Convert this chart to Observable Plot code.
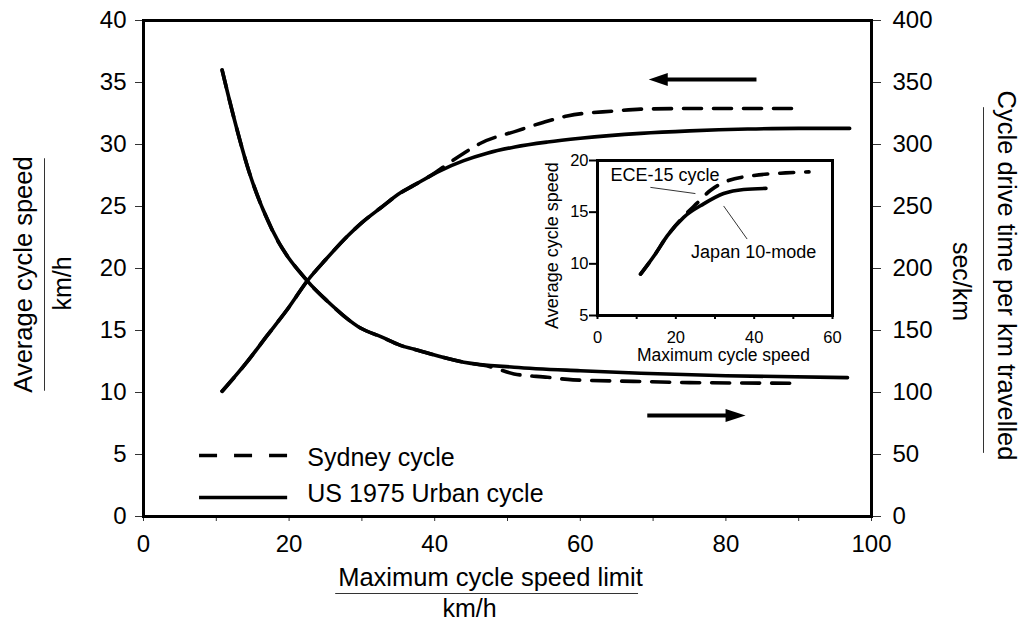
<!DOCTYPE html>
<html>
<head>
<meta charset="utf-8">
<script src="https://cdn.jsdelivr.net/npm/d3@7"></script>
<script src="https://cdn.jsdelivr.net/npm/@observablehq/plot@0.6"></script>
<style>
  html, body { margin: 0; padding: 0; background: #fff; }
  #wrap { position: relative; width: 1021px; height: 621px; }
  #inset { position: absolute; left: 520px; top: 140px; }
</style>
</head>
<body>
<div id="wrap"><div id="main"></div><div id="inset"></div></div>
<script>
// ---------- data ----------
// Main chart: average cycle speed (km/h, left axis)
const usSpeedX   = [10.8, 14, 17, 20, 22.5, 25, 28, 30, 32.6, 35.3, 37.1, 40.8, 44, 47.2, 51, 55.5, 60, 68.3, 75, 83, 90, 97];
const usSpeed    = [10.1, 12.3, 14.6, 16.9, 19.0, 20.7, 22.6, 23.7, 24.9, 26.1, 26.7, 27.9, 28.7, 29.3, 29.8, 30.2, 30.5, 30.9, 31.1, 31.25, 31.3, 31.3];
const sydSpeedX  = [10.8, 14, 17, 20, 22.5, 25, 28, 30, 32.6, 35.3, 37.1, 40, 41.7, 44, 46.3, 51.3, 55, 58.2, 64.6, 68.3, 75, 82, 89.3];
const sydSpeed   = [10.1, 12.3, 14.6, 16.9, 19.0, 20.7, 22.6, 23.7, 24.9, 26.1, 26.7, 27.7, 28.4, 29.3, 30.1, 31.1, 31.8, 32.3, 32.7, 32.85, 32.9, 32.9, 32.9];
// Main chart: cycle drive time per km (sec/km, right axis)
const usTimeX    = [10.8, 12.4, 14.5, 17.6, 22.5, 25.2, 29.8, 32.6, 35.3, 37.1, 44, 50.9, 60, 68.3, 80, 96.7];
const usTime     = [360, 322, 278, 232, 190, 174, 152, 145, 138, 135, 124.4, 120.4, 117.5, 115.5, 113.5, 112];
const sydTimeX   = [10.8, 12.4, 14.5, 17.6, 22.5, 25.2, 29.8, 32.6, 35.3, 37.1, 44, 47.5, 50.9, 55.5, 59, 67.3, 75, 89.1];
const sydTime    = [360, 322, 278, 232, 190, 174, 152, 145, 138, 135, 124.4, 121, 115, 112.3, 110.2, 109, 108, 107.5];
// Inset: average cycle speed vs maximum cycle speed
const japanX     = [11, 14.5, 17.8, 22, 27.1, 32.2, 37.3, 43];
const japan      = [9.0, 10.8, 12.7, 14.5, 15.8, 16.8, 17.2, 17.3];
const eceX       = [11, 14.5, 17.8, 22, 25.5, 28.8, 33, 40, 48, 54];
const ece        = [9.0, 10.8, 12.7, 14.6, 15.9, 17.1, 18.0, 18.55, 18.8, 18.9];
// Ticks
const xTicks      = [0, 10, 20, 30, 40, 50, 60, 70, 80, 90, 100];
const leftTicks   = [0, 5, 10, 15, 20, 25, 30, 35, 40];
const rightTicks  = [0, 50, 100, 150, 200, 250, 300, 350, 400];
const insetXTicks = [0, 10, 20, 30, 40, 50, 60];
const insetYTicks = [5, 10, 15, 20];
// Texts
const seriesNames = ["Sydney cycle", "US 1975 Urban cycle"];
const insetNames  = ["ECE-15 cycle", "Japan 10-mode"];

// ---------- tables ----------
const zip = (xs, ys, extra) => xs.map((x, i) => ({x, y: ys[i], ...extra}));
const usSpeedT  = zip(usSpeedX, usSpeed);
const sydSpeedT = zip(sydSpeedX, sydSpeed);
const usTimeT   = zip(usTimeX, usTime.map(t => t / 10));   // right axis shares pixels: 400 s/km == 40 km/h
const sydTimeT  = zip(sydTimeX, sydTime.map(t => t / 10));
const japanT    = zip(japanX, japan);
const eceT      = zip(eceX, ece);

const FONT = "'Liberation Sans', Arial, Helvetica, sans-serif";
const INK = "#000";
const LW = 3.6;
const DASH = "18,12";

const arrowRight = {draw(ctx) { ctx.moveTo(0, 0); ctx.lineTo(-20, -6.5); ctx.lineTo(-20, 6.5); ctx.closePath(); }};
const arrowLeft  = {draw(ctx) { ctx.moveTo(0, 0); ctx.lineTo(19, -6.5); ctx.lineTo(19, 6.5); ctx.closePath(); }};

const arrows = [
  {x1: 84.2, x2: 71.5, tip: 69.4, y: 35.24, dir: "left"},
  {x1: 69.2, x2: 80.5, tip: 82.7, y: 8.15, dir: "right"}
];

const legendRows = [
  {name: seriesNames[0], y: 4.92, ty: 4.7},
  {name: seriesNames[1], y: 1.53, ty: 1.83}
];

const title = (text, o) => Plot.text([text], {text: d => d, textAnchor: "middle", lineAnchor: "middle", fill: INK, ...o});

const main = Plot.plot({
  width: 1021,
  height: 621,
  marginLeft: 143,
  marginRight: 150,
  marginTop: 20,
  marginBottom: 105,
  style: {fontFamily: FONT, fontSize: "24px", color: INK, background: "white"},
  x: {domain: [0, 100]},
  y: {domain: [0, 40]},
  marks: [
    Plot.axisX({ticks: xTicks, tickFormat: d => d % 20 === 0 ? d : "", tickSize: 5, tickPadding: 13, label: null, fontSize: 24, stroke: "#333"}),
    Plot.axisY({anchor: "left", ticks: leftTicks, tickSize: 8, tickPadding: 9, label: null, fontSize: 24, stroke: "#333"}),
    Plot.axisY({anchor: "right", ticks: rightTicks.map(t => t / 10), tickFormat: (d, i) => rightTicks[i], tickSize: 9, tickPadding: 12, label: null, fontSize: 24, stroke: "#333"}),
    // curves
    Plot.line(usSpeedT,  {x: "x", y: "y", stroke: INK, strokeWidth: LW, curve: "monotone-x"}),
    Plot.line(sydSpeedT, {x: "x", y: "y", stroke: INK, strokeWidth: LW, curve: "monotone-x", strokeDasharray: DASH}),
    Plot.line(usTimeT,   {x: "x", y: "y", stroke: INK, strokeWidth: LW, curve: "monotone-x"}),
    Plot.line(sydTimeT,  {x: "x", y: "y", stroke: INK, strokeWidth: LW, curve: "monotone-x", strokeDasharray: DASH}),
    // arrows
    Plot.link(arrows, {x1: "x1", x2: "x2", y1: "y", y2: "y", stroke: INK, strokeWidth: 4}),
    Plot.dot(arrows.filter(d => d.dir === "left"),  {x: "tip", y: "y", symbol: arrowLeft,  fill: INK, stroke: "none"}),
    Plot.dot(arrows.filter(d => d.dir === "right"), {x: "tip", y: "y", symbol: arrowRight, fill: INK, stroke: "none"}),
    // legend
    Plot.ruleY([legendRows[0]], {y: "y", x1: 7.7, x2: 19.8, stroke: INK, strokeWidth: LW, strokeDasharray: "18,17"}),
    Plot.ruleY([legendRows[1]], {y: "y", x1: 7.7, x2: 19.8, stroke: INK, strokeWidth: LW}),
    Plot.text(legendRows, {x: 22.5, y: "ty", text: "name", textAnchor: "start", fontSize: 25, fill: INK}),
    // frame
    Plot.frame({stroke: INK, strokeWidth: 3}),
    // axis titles
    title("Average cycle speed", {frameAnchor: "left", rotate: -90, dx: -120, dy: 6, fontSize: 25.5}),
    Plot.ruleX([0], {y1: 28.85, y2: 10.1, dx: -99, stroke: "#333", strokeWidth: 1}),
    title("km/h", {frameAnchor: "left", rotate: -90, dx: -81, dy: 15, fontSize: 25}),
    title("Cycle drive time per km travelled", {frameAnchor: "right", rotate: 90, dx: 135, dy: 7, fontSize: 25.5}),
    Plot.ruleX([100], {y1: 32.97, y2: 5.09, dx: 112, stroke: "#333", strokeWidth: 1}),
    title("sec/km", {frameAnchor: "right", rotate: 90, dx: 89, dy: 13, fontSize: 25}),
    title("Maximum cycle speed limit", {frameAnchor: "bottom", dx: -17, dy: 61, fontSize: 25.5}),
    Plot.ruleY([0], {x1: 26.4, x2: 68.0, dy: 77, stroke: "#333", strokeWidth: 1}),
    title("km/h", {frameAnchor: "bottom", dx: -38, dy: 92, fontSize: 25})
  ]
});
document.getElementById("main").appendChild(main);

const insetLabels = [
  {name: insetNames[0], x: 3.3, y: 18.6},
  {name: insetNames[1], x: 23.9, y: 11.1}
];
const leaders = [
  {x1: 13.5, y1: 17.4, x2: 25, y2: 16.8},
  {x1: 32.2, y1: 15.6, x2: 38.2, y2: 12.4}
];

const inset = Plot.plot({
  width: 330,
  height: 235,
  marginLeft: 77,
  marginRight: 18,
  marginTop: 20,
  marginBottom: 60,
  style: {fontFamily: FONT, fontSize: "16px", color: INK, background: "transparent"},
  x: {domain: [0, 60]},
  y: {domain: [5, 20]},
  marks: [
    Plot.axisX({ticks: insetXTicks, tickFormat: d => d % 20 === 0 ? d : "", tickSize: 4, tickPadding: 12, label: null, fontSize: 16.5, strokeWidth: 2}),
    Plot.axisY({ticks: insetYTicks, tickSize: 8, tickPadding: 1, label: null, fontSize: 16.5, strokeWidth: 2}),
    Plot.line(japanT, {x: "x", y: "y", stroke: INK, strokeWidth: 3.6, curve: "monotone-x"}),
    Plot.line(eceT,   {x: "x", y: "y", stroke: INK, strokeWidth: 3.6, curve: "monotone-x", strokeDasharray: "14,12"}),
    Plot.link(leaders, {x1: "x1", y1: "y1", x2: "x2", y2: "y2", stroke: INK, strokeWidth: 0.8}),
    Plot.text(insetLabels, {x: "x", y: "y", text: "name", textAnchor: "start", fontSize: 18, fill: INK}),
    Plot.frame({stroke: INK, strokeWidth: 3}),
    title("Average cycle speed", {frameAnchor: "left", rotate: -90, dx: -45, dy: 7.5, fontSize: 18}),
    title("Maximum cycle speed", {frameAnchor: "bottom", dx: 8.5, dy: 40, fontSize: 17.5})
  ]
});
document.getElementById("inset").appendChild(inset);
</script>
</body>
</html>
